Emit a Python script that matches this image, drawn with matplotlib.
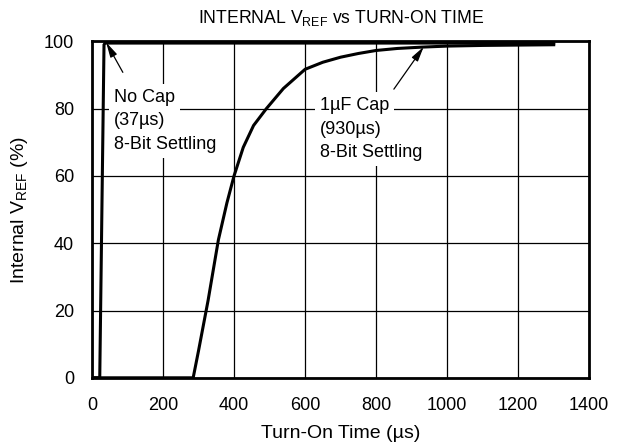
import matplotlib.pyplot as plt
import numpy as np

plt.rcParams['font.family'] = ['Liberation Sans', 'DejaVu Sans']

# No Cap curve (time in us, percent)
t_nocap = [0, 22, 34, 37, 1300]
v_nocap = [0, 0, 99, 99.5, 99.5]

# 1uF Cap curve
t_cap = [0, 285, 300, 327, 356, 380, 400, 426, 455, 491, 539, 600, 650, 700, 750, 800, 860, 930, 1000, 1100, 1200, 1300]
v_cap = [0, 0, 8, 23, 41, 52, 60, 68.5, 75, 80, 86, 91.7, 93.8, 95.3, 96.4, 97.3, 97.9, 98.3, 98.6, 98.8, 98.9, 99.0]

# annotation text lines and baselines (us, %)
nocap_lines = ['No Cap', '(37\u00b5s)', '8-Bit Settling']
nocap_y = [82.0, 75.1, 68.1]
cap_lines = ['1\u00b5F Cap', '(930\u00b5s)', '8-Bit Settling']
cap_y = [79.5, 72.5, 65.5]

fig = plt.figure(figsize=(6.17, 4.45), dpi=100)
ax = fig.add_axes([0.149, 0.151, 0.806, 0.756])

ax.plot(t_nocap, v_nocap, color='black', lw=2.2, solid_joinstyle='miter')
ax.plot(t_cap, v_cap, color='black', lw=2.2)

ax.set_xlim(0, 1400)
ax.set_ylim(0, 100)
ax.set_xticks(np.arange(0, 1401, 200))
ax.set_yticks(np.arange(0, 101, 20))
ax.grid(True, color='black', lw=0.9)
ax.tick_params(length=0, labelsize=13)
ax.tick_params(axis='x', pad=14)
ax.tick_params(axis='y', pad=13)
for s in ax.spines.values():
    s.set_linewidth(2)

ax.set_title('INTERNAL V$_{\\mathregular{REF}}$ vs TURN-ON TIME', fontsize=12.7, pad=13)
ax.set_xlabel('Turn-On Time (\u00b5s)', fontsize=14, labelpad=8)
ax.set_ylabel('Internal V$_{\\mathregular{REF}}$ (%)', fontsize=14, labelpad=10)

bbox = dict(facecolor='white', edgecolor='none', pad=3.5)
for s, y in zip(nocap_lines, nocap_y):
    ax.text(62, y, s, fontsize=13, ha='left', va='baseline', bbox=bbox)
for s, y in zip(cap_lines, cap_y):
    ax.text(641, y, s, fontsize=13, ha='left', va='baseline', bbox=bbox)

arrow = dict(arrowstyle='-|>,head_length=0.9,head_width=0.22', color='black', lw=0.9,
             shrinkA=0, shrinkB=0)
ax.annotate('', xy=(40, 99.7), xytext=(87, 90.8), arrowprops=arrow)
ax.annotate('', xy=(934, 98.4), xytext=(850, 85.8), arrowprops=arrow)

fig.savefig('out.png', dpi=100)
